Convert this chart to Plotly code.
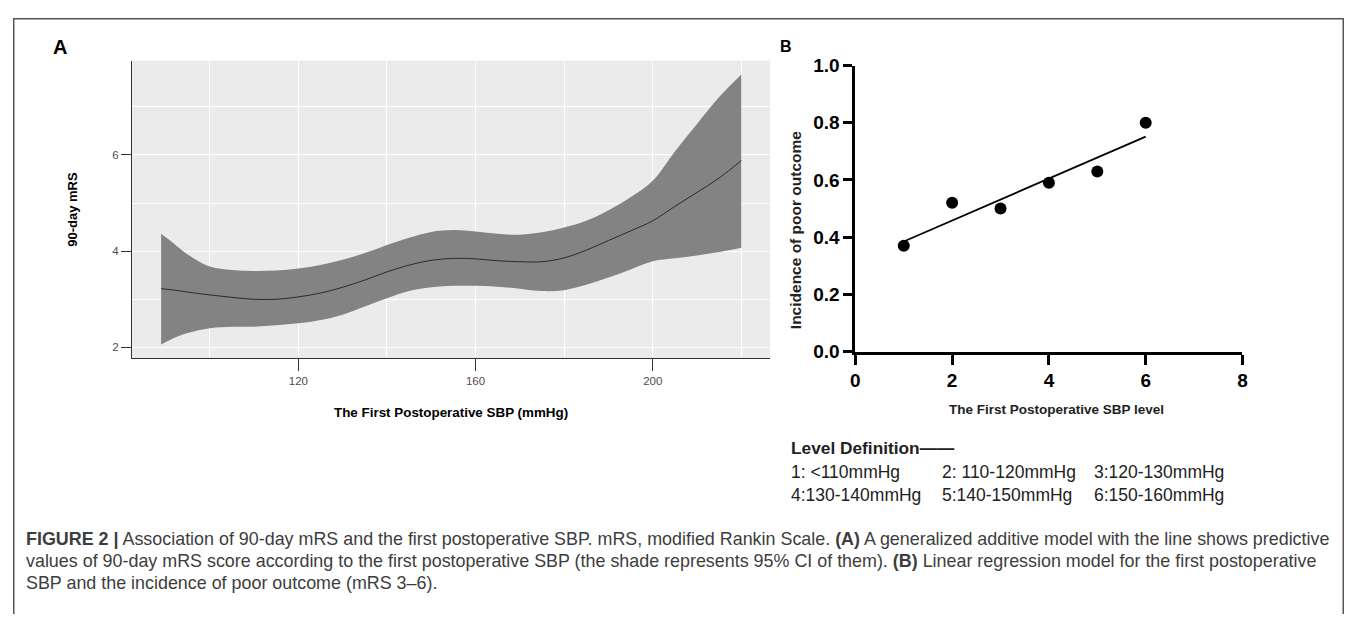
import numpy as np
import plotly.graph_objects as go

PAGE_W, PAGE_H = 1357, 633
BODY = 8  # default body margin of the html page
W, H = PAGE_W - 2 * BODY, PAGE_H - 2 * BODY

# ---------------- Panel A data (GAM fit with 95% CI) ----------------
sbp = [89, 92, 95, 100, 105, 110, 115, 120, 125, 130, 135, 140, 145, 150,
       155, 160, 165, 170, 175, 180, 185, 190, 195, 200, 205, 210, 215, 220]
mrs_fit = [3.22, 3.19, 3.15, 3.09, 3.04, 3.00, 3.00, 3.05, 3.13, 3.25, 3.40, 3.57, 3.71, 3.81,
           3.85, 3.84, 3.80, 3.78, 3.78, 3.86, 4.02, 4.22, 4.42, 4.63, 4.93, 5.22, 5.52, 5.88]
mrs_upper = [4.36, 4.15, 3.93, 3.68, 3.61, 3.59, 3.60, 3.64, 3.71, 3.82, 3.96, 4.13, 4.28, 4.40,
             4.44, 4.41, 4.36, 4.34, 4.39, 4.49, 4.63, 4.85, 5.12, 5.46, 6.07, 6.64, 7.20, 7.67]
mrs_lower = [2.06, 2.20, 2.30, 2.40, 2.43, 2.43, 2.46, 2.50, 2.57, 2.68, 2.85, 3.02, 3.17, 3.25,
             3.28, 3.28, 3.26, 3.22, 3.17, 3.19, 3.30, 3.45, 3.62, 3.79, 3.85, 3.91, 3.98, 4.07]

# ---------------- Panel B data ----------------
levels = [1, 2, 3, 4, 5, 6]
incidence = [0.37, 0.52, 0.50, 0.59, 0.63, 0.80]

level_defs = ["1: &lt;110mmHg", "2: 110-120mmHg", "3:120-130mmHg",
              "4:130-140mmHg", "5:140-150mmHg", "6:150-160mmHg"]

caption_lines = [
    "<b>FIGURE 2 |</b> Association of 90-day mRS and the first postoperative SBP. mRS, modified Rankin Scale. "
    "<b>(A)</b> A generalized additive model with the line shows predictive",
    "values of 90-day mRS score according to the first postoperative SBP (the shade represents 95% CI of them). "
    "<b>(B)</b> Linear regression model for the first postoperative",
    "SBP and the incidence of poor outcome (mRS 3\u20136).",
]

# linear regression fit for panel B
slope, intercept = np.polyfit(levels, incidence, 1)
fit_x = [levels[0], levels[-1]]
fit_y = [intercept + slope * v for v in fit_x]


def px(x):
    return (x - BODY) / W


def py(y):
    return 1 - (y - BODY) / H


fig = go.Figure()

# Panel A: ribbon
fig.add_trace(go.Scatter(x=sbp, y=mrs_lower, mode="lines", line=dict(width=0, shape="spline", color="#838383"),
                         xaxis="x", yaxis="y", showlegend=False, hoverinfo="skip"))
fig.add_trace(go.Scatter(x=sbp, y=mrs_upper, mode="lines", line=dict(width=0, shape="spline", color="#838383"),
                         fill="tonexty", fillcolor="#838383", xaxis="x", yaxis="y", showlegend=False,
                         hoverinfo="skip"))
fig.add_trace(go.Scatter(x=sbp, y=mrs_fit, mode="lines", line=dict(width=1, shape="spline", color="#2b2b2b"),
                         xaxis="x", yaxis="y", showlegend=False))

# Panel B
fig.add_trace(go.Scatter(x=fit_x, y=fit_y, mode="lines", line=dict(width=1.8, color="black"),
                         xaxis="x2", yaxis="y2", showlegend=False, cliponaxis=False))
fig.add_trace(go.Scatter(x=levels, y=incidence, mode="markers", marker=dict(size=12, color="black"),
                         xaxis="x2", yaxis="y2", showlegend=False, cliponaxis=False))

fontA = dict(family="Arial, Liberation Sans, sans-serif", size=11.5, color="#4d4d4d")
fontB = dict(family="Arial, Liberation Sans, sans-serif", size=19, color="black", weight="bold")

fig.update_layout(
    width=W, height=H,
    margin=dict(l=0, r=0, t=0, b=0),
    paper_bgcolor="white", plot_bgcolor="white",
    font=dict(family="Arial, Liberation Sans, sans-serif"),
    xaxis=dict(domain=[px(128), px(771)], range=[82.45, 226.55], anchor="y",
               tick0=120, dtick=40, ticks="outside", ticklen=12, tickwidth=1.2, tickcolor="#333333",
               showline=True, linecolor="#333333", linewidth=1.2,
               showgrid=True, gridcolor="white", gridwidth=1.4, zeroline=False,
               minor=dict(tick0=100, dtick=20, showgrid=True, gridcolor="white", gridwidth=0.6, ticks=""),
               tickfont=fontA),
    yaxis=dict(domain=[py(360), py(52)], range=[1.78, 7.96], anchor="x",
               tick0=2, dtick=2, ticks="outside", ticklen=10, tickwidth=1.2, tickcolor="#333333",
               showline=True, linecolor="#333333", linewidth=1.2,
               showgrid=True, gridcolor="white", gridwidth=1.4, zeroline=False,
               minor=dict(tick0=3, dtick=2, showgrid=True, gridcolor="white", gridwidth=0.6, ticks=""),
               tickfont=fontA),
    xaxis2=dict(domain=[px(856.7), px(1246.7)], range=[0, 8], anchor="y2",
                tick0=0, dtick=2, ticks="outside", ticklen=10, tickwidth=3, tickcolor="black",
                showline=True, linecolor="black", linewidth=3, showgrid=False, zeroline=False,
                tickfont=fontB),
    yaxis2=dict(domain=[py(353.3), py(57.3)], range=[0, 1], anchor="x2",
                tick0=0, dtick=0.2, tickformat=".1f", ticks="outside", ticklen=9, tickwidth=3,
                tickcolor="black", showline=True, linecolor="black", linewidth=3,
                showgrid=False, zeroline=False, tickfont=fontB),
)

edge = 0.75 / W
shapes = [
    dict(type="rect", xref="x domain", yref="y domain", x0=0, x1=1, y0=0, y1=1,
         fillcolor="#EBEBEB", line=dict(width=0), layer="below"),
    dict(type="line", xref="paper", yref="paper", x0=0, x1=1, y0=1 - 0.75 / H, y1=1 - 0.75 / H,
         line=dict(color="#555555", width=1.5)),
    dict(type="line", xref="paper", yref="paper", x0=edge, x1=edge, y0=1, y1=0,
         line=dict(color="#555555", width=1.5)),
    dict(type="line", xref="paper", yref="paper", x0=1 - edge, x1=1 - edge, y0=1, y1=0,
         line=dict(color="#555555", width=1.5)),
]
fig.update_layout(shapes=shapes)

ann = []


def add_text(text, x, y, size, color="black", xanchor="center", textangle=0, bold=False):
    ann.append(dict(text=text, x=px(x), y=py(y), xref="paper", yref="paper", showarrow=False,
                    xanchor=xanchor, yanchor="middle", textangle=textangle,
                    font=dict(family="Arial, Liberation Sans, sans-serif", size=size, color=color,
                              weight="bold" if bold else "normal")))


# panel labels
add_text("A", 55.5, 38, 20, bold=True)
add_text("B", 786.5, 37.5, 16, bold=True)

# panel A axis titles
add_text("The First Postoperative SBP (mmHg)", 449.5, 416, 13.4, bold=True)
add_text("90-day mRS", 68, 206, 13, textangle=-90, bold=True)

# panel B axis titles
add_text("The First Postoperative SBP level", 1059, 413, 13.5, color="#222222", bold=True)
add_text("Incidence of poor outcome", 796, 227.5, 15.5, color="#222222", textangle=-90, bold=True)

# level definition
add_text("Level Definition\u2014\u2014", 789.5, 453, 17.3, color="#222222", xanchor="left", bold=True)
col_x = [789.5, 941.5, 1095.5]
row_y = [478, 502]
for i, t in enumerate(level_defs):
    add_text(t, col_x[i % 3], row_y[i // 3], 17.5, color="#222222", xanchor="left")

# caption
for i, t in enumerate(caption_lines):
    add_text(t, 19, 547 + 23 * i, 17.9, color="#3d3d3d", xanchor="left")

fig.update_layout(annotations=ann)

fig.write_html("out.html", config={"displayModeBar": False})
